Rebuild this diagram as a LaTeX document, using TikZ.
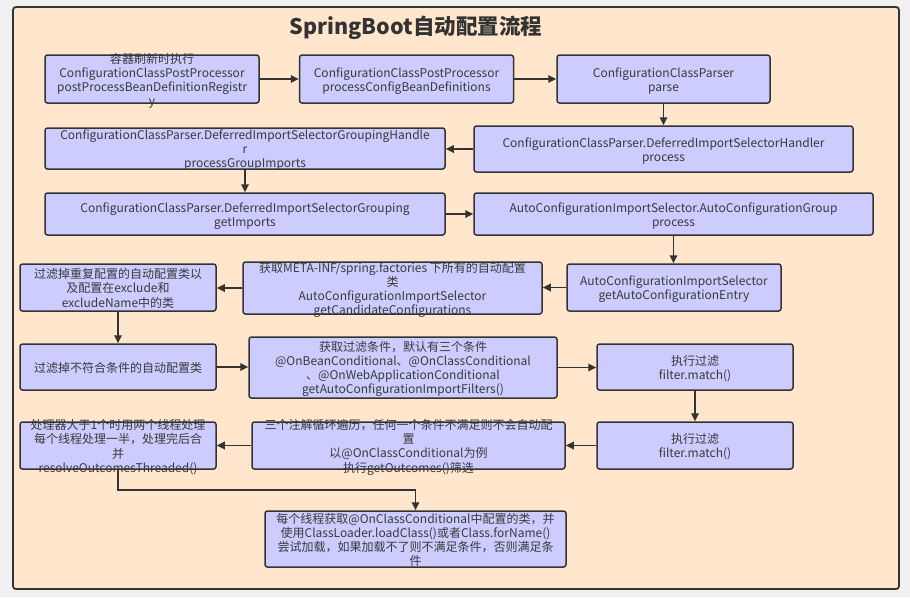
\documentclass[tikz,border=0pt]{standalone}
\usepackage{fontspec}
\setmainfont{Noto Sans CJK SC}
\usepackage{tikz}
\usetikzlibrary{arrows.meta,positioning}
\definecolor{shell}{HTML}{F0F0F0}
\definecolor{peach}{HTML}{FFE6CC}
\definecolor{lav}{HTML}{CCCCFF}
\definecolor{edge}{HTML}{333333}
\definecolor{ink}{HTML}{3A3A3A}
\newcommand{\boxlines}[1]{\smash{\raisebox{-5.5pt}{\begin{tabular}[c]{@{}c@{}}#1\end{tabular}}}}
\tikzset{
  >={Triangle[length=8pt,width=7.5pt]},
  flow/.style={->,line width=1.7pt,draw=edge},
  frame/.style={rounded corners=3pt,draw=edge,line width=1.8pt,fill=peach},
  box/.style={rounded corners=2.5pt,draw=edge,line width=1.5pt,fill=lav,
    inner sep=0pt,text=ink,font=\fontsize{12}{14}\selectfont},
  title/.style={font=\fontsize{21.5}{24}\selectfont\bfseries,text=edge}
}
\begin{document}
\begin{tikzpicture}[x=1pt,y=-1pt]
  \useasboundingbox (0,0) rectangle (910,597);
  \fill[shell] (0,0) rectangle (910,597);
  \draw[frame] (13,7) rectangle (899,589);
  \node[title] (title) at (416,28) {SpringBoot自动配置流程};
  % row 1
  \node[box,minimum width=214pt,minimum height=48pt] (init) at (152,79)
    {\boxlines{容器刷新时执行\\ConfigurationClassPostProcessor\\postProcessBeanDefinitionRegistr\\y}};
  \node[box,minimum width=214pt,minimum height=48pt] (procdef) at (406.5,79)
    {\boxlines{ConfigurationClassPostProcessor\\processConfigBeanDefinitions}};
  \node[box,minimum width=213pt,minimum height=48pt] (parse) at (663.5,79)
    {\boxlines{ConfigurationClassParser\\parse}};
  % row 2
  \node[box,minimum width=379pt,minimum height=46pt] (handler) at (663.5,149)
    {\boxlines{ConfigurationClassParser.DeferredImportSelectorHandler\\process}};
  \node[box,minimum width=400pt,minimum height=41pt] (grphandler) at (245,148.5)
    {\boxlines{ConfigurationClassParser.DeferredImportSelectorGroupingHandle\\r\\processGroupImports}};
  % row 3
  \node[box,minimum width=400pt,minimum height=42pt] (grouping) at (245,214)
    {\boxlines{ConfigurationClassParser.DeferredImportSelectorGrouping\\getImports}};
  \node[box,minimum width=399pt,minimum height=42pt] (autogroup) at (673.5,214)
    {\boxlines{AutoConfigurationImportSelector.AutoConfigurationGroup\\process}};
  % row 4
  \node[box,minimum width=214pt,minimum height=47pt] (entry) at (674,287.5)
    {\boxlines{AutoConfigurationImportSelector\\getAutoConfigurationEntry}};
  \node[box,minimum width=299pt,minimum height=52pt] (candidates) at (392.5,288)
    {\boxlines{获取META-INF/spring.factories 下所有的自动配置\\类\\AutoConfigurationImportSelector\\getCandidateConfigurations}};
  \node[box,minimum width=196pt,minimum height=47pt] (dedup) at (118,287.5)
    {\boxlines{过滤掉重复配置的自动配置类以\\及配置在exclude和\\excludeName中的类}};
  % row 5
  \node[box,minimum width=196pt,minimum height=46pt] (unmatched) at (118,367)
    {\boxlines{过滤掉不符合条件的自动配置类}};
  \node[box,minimum width=308pt,minimum height=61pt] (filters) at (403,367.5)
    {\boxlines{获取过滤条件，默认有三个条件\\@OnBeanConditional、@OnClassConditional\\、@OnWebApplicationConditional\\getAutoConfigurationImportFilters()}};
  \node[box,minimum width=196pt,minimum height=46pt] (match) at (695,367)
    {\boxlines{执行过滤\\filter.match()}};
  % row 6
  \node[box,minimum width=196pt,minimum height=47pt] (matchrun) at (695,445.5)
    {\boxlines{执行过滤\\filter.match()}};
  \node[box,minimum width=313pt,minimum height=47pt] (outcomes) at (408.5,445.5)
    {\boxlines{三个注解循环遍历，任何一个条件不满足则不会自动配\\置\\以@OnClassConditional为例\\执行getOutcomes()筛选}};
  \node[box,minimum width=196pt,minimum height=47pt] (threaded) at (118,445.5)
    {\boxlines{处理器大于1个时用两个线程处理\\每个线程处理一半，处理完后合\\并\\resolveOutcomesThreaded()}};
  % row 7
  \node[box,minimum width=301pt,minimum height=56pt] (perthread) at (415.5,539)
    {\boxlines{每个线程获取@OnClassConditional中配置的类，并\\使用ClassLoader.loadClass()或者Class.forName()\\尝试加载，如果加载不了则不满足条件，否则满足条\\件}};
  % connectors
  \draw[flow] (init) -- (procdef);
  \draw[flow] (procdef) -- (parse);
  \draw[flow] (parse) -- (handler);
  \draw[flow] (handler.west) -- (handler.west -| grphandler.east);
  \draw[flow] (grphandler) -- (grouping);
  \draw[flow] (grouping) -- (autogroup);
  \draw[flow] (autogroup.south) -- (autogroup.south |- entry.north);
  \draw[flow] (entry.west) -- (entry.west -| candidates.east);
  \draw[flow] (candidates.west) -- (candidates.west -| dedup.east);
  \draw[flow] (dedup) -- (unmatched);
  \draw[flow] (unmatched.east) -- (unmatched.east -| filters.west);
  \draw[flow] (filters.east) -- (filters.east -| match.west);
  \draw[flow] (match) -- (matchrun);
  \draw[flow] (matchrun) -- (outcomes);
  \draw[flow] (outcomes) -- (threaded);
  \draw[flow] (threaded.south) -- ++(0,20) -| (perthread.north);
\end{tikzpicture}
\end{document}
